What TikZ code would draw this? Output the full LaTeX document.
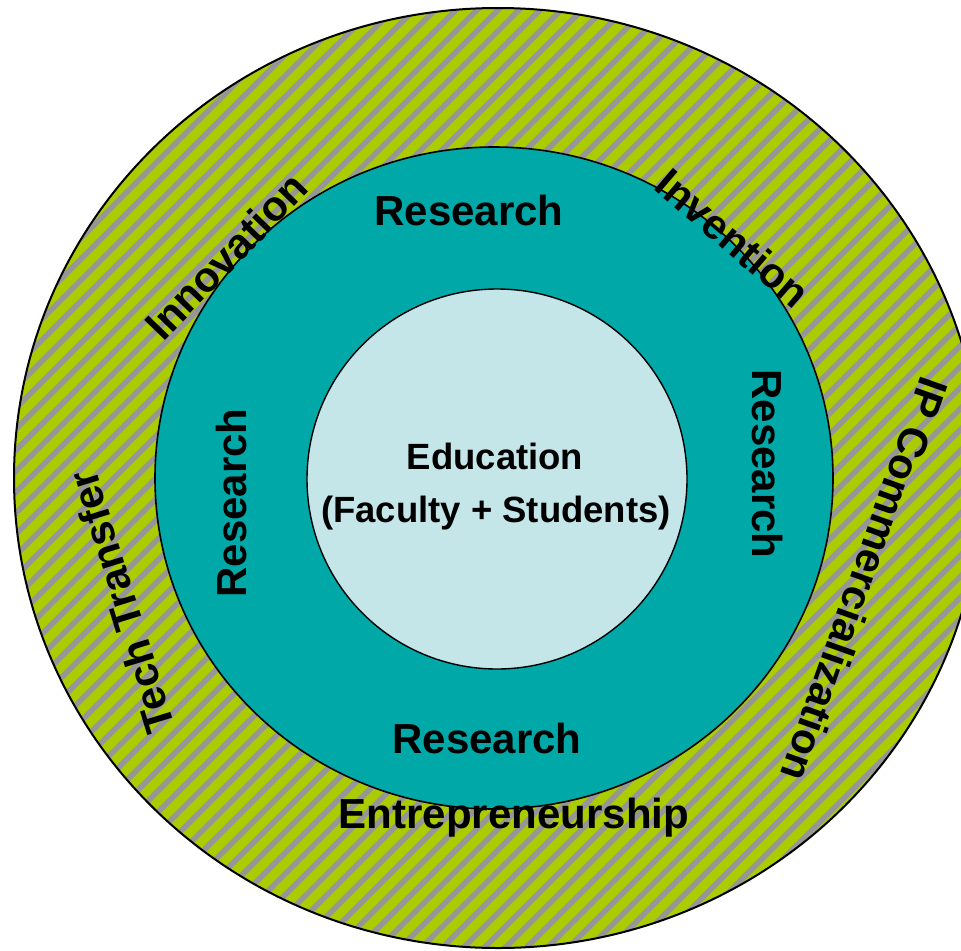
\documentclass[tikz,border=0pt]{standalone}
\usepackage{fontspec}
\setmainfont{Liberation Sans}
\definecolor{ringgreen}{RGB}{170,204,0}
\definecolor{ringgrey}{RGB}{150,150,150}
\definecolor{tealmid}{RGB}{0,168,168}
\definecolor{lightcore}{RGB}{196,230,232}
\tikzset{
  lbl/.style={font=\fontsize{42bp}{48bp}\selectfont\bfseries, inner sep=0pt, text=black},
  edu/.style={font=\fontsize{36.5bp}{44bp}\selectfont\bfseries, inner sep=0pt, text=black},
  stripeband/.style={fill=ringgrey, draw=none},
}
\begin{document}
\begin{tikzpicture}[x=1bp,y=-1bp]
  \clip (0,0) rectangle (961,951);
  \fill[white] (0,0) rectangle (961,951);
  % outer ring with diagonal stripes
  \begin{scope}
    \clip (498,478) ellipse [x radius=484, y radius=470];
    \fill[ringgreen] (0,0) rectangle (961,951);
    \foreach \k in {0,...,93} {
      \pgfmathsetmacro{\sa}{21*\k}
      \pgfmathsetmacro{\sb}{21*\k+7.8}
      \fill[stripeband] (\sa,0) -- (\sb,0) -- (0,\sb) -- (0,\sa) -- cycle;
    }
  \end{scope}
  \draw[line width=2bp] (498,478) ellipse [x radius=484, y radius=470];
  % middle ring
  \filldraw[fill=tealmid, draw=black, line width=1.6bp] (494,478) ellipse [x radius=339, y radius=331];
  % core
  \filldraw[fill=lightcore, draw=black, line width=1.4bp] (497,479) circle [radius=190];
  % core text
  \node[edu, anchor=base] (edu1) at (495,469) {Education};
  \node[edu, anchor=base] (edu2) at (496,522) {(Faculty + Students)};
  % research labels
  \node[lbl] (rtop) at (469,210) {Research};
  \node[lbl] (rbot) at (487,738) {Research};
  \node[lbl, rotate=90] (rleft) at (231,503) {Research};
  \node[lbl, rotate=-90] (rright) at (768,464) {Research};
  % outer labels
  \node[lbl, rotate=46] (innov) at (226,256) {Innovation};
  \node[lbl, rotate=-40.6] (invent) at (733,238) {Invention};
  \node[lbl, rotate=-109.5] (ipc) at (865,580) {IP Commercialization};
  \node[lbl, rotate=107.1] (tech) at (121,602) {Tech Transfer};
  \node[lbl, anchor=base] (entre) at (514,828) {Entrepreneurship};
\end{tikzpicture}
\end{document}
